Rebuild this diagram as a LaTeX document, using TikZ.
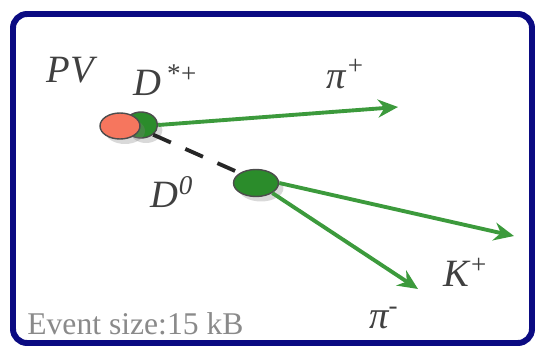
\documentclass[tikz,border=0pt]{standalone}
\usepackage{fontspec}
\setmainfont{Liberation Serif}
\newfontfamily\hepfont{Liberation Serif}
\usetikzlibrary{arrows.meta,shapes.geometric,shadows}
\definecolor{FrameNavy}{HTML}{0B0B82}
\definecolor{TrackGreen}{HTML}{3C9A3C}
\definecolor{VtxGreen}{HTML}{2B8C2B}
\definecolor{VtxRed}{HTML}{F6765E}
\definecolor{LabelGray}{HTML}{8A8A8A}

\begin{document}
\begin{tikzpicture}[x=0.02cm, y=-0.02cm,
    lbl/.style={font=\hepfont\fontsize{22}{24}\selectfont\itshape, text=black!75, inner sep=0pt},
    vtx/.style={ellipse, draw=black!70, thick, inner sep=0pt, drop shadow={opacity=0.3,shadow xshift=1mm,shadow yshift=-1mm}},
    trk/.style={-{Stealth[length=4mm,width=3.6mm]}, TrackGreen, line width=2.2pt}]
    \useasboundingbox (0,0) rectangle (542,352);
    \draw[FrameNavy, line width=3.4pt, rounded corners=8pt] (13,14) rectangle (532,343);
    % vertices
    \node[vtx, fill=VtxGreen, minimum width=0.66cm, minimum height=0.52cm] (dstar) at (141,125) {};
    \node[vtx, fill=VtxRed, minimum width=0.8cm, minimum height=0.52cm] (pv) at (120,126) {};
    \node[vtx, fill=VtxGreen, minimum width=0.9cm, minimum height=0.54cm] (dzero) at (256,183) {};
    \coordinate (pipend) at (398,107);
    \coordinate (kend) at (514,236);
    \coordinate (pimend) at (418,289);
    % tracks
    \draw[trk] (dstar.east) -- (pipend);
    \draw[black!85, line width=2.2pt, dash pattern=on 11pt off 9pt] (dstar.south east) -- (dzero.north west);
    \draw[trk] (dzero.east) -- (kend);
    \draw[trk] (dzero.south east) -- (pimend);
    % labels
    \node[lbl] (pvlbl) at (70,70) {PV};
    \node[lbl] (dstarlbl) at (166,80) {D\textsuperscript{\,*+}};
    \node[lbl] (piplbl) at (346,74) {π\textsuperscript{+}};
    \node[lbl] (dzerolbl) at (172,192) {D\textsuperscript{0}};
    \node[lbl] (klbl) at (466,272) {K\textsuperscript{+}};
    \node[lbl] (pimlbl) at (384,318) {π\textsuperscript{-}};
    \node[anchor=west, inner sep=0pt, text=LabelGray, font=\hepfont\fontsize{18}{20}\selectfont] (evsize) at (27,324) {Event size:15 kB};
\end{tikzpicture}
\end{document}
